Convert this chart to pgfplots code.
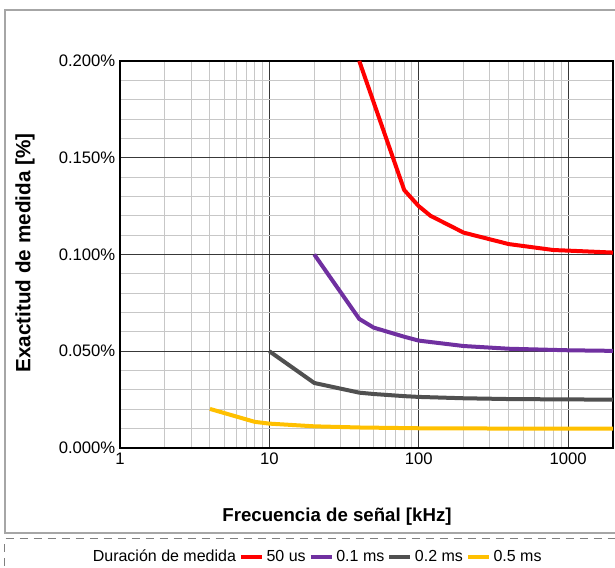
\documentclass[border=0pt]{standalone}
\usepackage{pgfplots}
\pgfplotsset{compat=1.18}
\usepackage{fontspec}
\setmainfont{Liberation Sans}
\definecolor{cred}{HTML}{FF0000}
\definecolor{cpurple}{HTML}{7030A0}
\definecolor{cgray}{HTML}{505050}
\definecolor{cyellow}{HTML}{FFC000}
\definecolor{cborder}{HTML}{A6A6A6}
\definecolor{cdash}{HTML}{808080}
\begin{document}
\begin{tikzpicture}[x=0.75pt,y=0.75pt]
\path[use as bounding box] (0,0) rectangle (615,568);
\draw[cborder, line width=1.5pt] (4.5,35) rectangle (640,558);
\draw[cdash, line width=0.75pt, dash pattern=on 6pt off 4.5pt] (4.5,-40) rectangle (640,29);
\begin{axis}[
  at={(90pt,90pt)}, anchor=south west,
  scale only axis, width=369.75pt, height=290.25pt,
  xmode=log, log basis x=10,
  xmin=1, xmax=2000, ymin=0, ymax=0.2,
  xtick={1,10,100,1000}, xticklabels={1,10,100,1000},
  minor xtick={2,3,4,5,6,7,8,9,20,30,40,50,60,70,80,90,200,300,400,500,600,700,800,900},
  ytick={0,0.05,0.1,0.15,0.2},
  yticklabels={0.000\%,0.050\%,0.100\%,0.150\%,0.200\%},
  minor ytick={0.01,0.02,0.03,0.04,0.06,0.07,0.08,0.09,0.11,0.12,0.13,0.14,0.16,0.17,0.18,0.19},
  grid=both,
  major grid style={draw=black!78, line width=0.75pt},
  minor grid style={draw=black!22, line width=0.75pt},
  axis line style={black, line width=0.9pt},
  tick style={draw=none}, major tick length=0pt, minor tick length=0pt,
  tick label style={font=\fontsize{12.5}{14}\selectfont},
  /pgf/number format/assume math mode=true,
  legend columns=-1,
  legend style={at={(0.400,-0.2817)}, anchor=center, draw=none, fill=none,
    font=\fontsize{12}{14}\selectfont,
    /tikz/every even column/.append style={column sep=0pt},
    inner sep=0pt},
  legend image code/.code={\draw[line width=3.2pt] (0pt,0pt) -- (15.75pt,0pt);},
]
\addlegendimage{empty legend}
\addlegendentry{Duración de medida\hspace{6pt}}
\addplot[cred, line width=3pt] coordinates {
(40,0.2) (80,0.1333) (100,0.1250) (120,0.1200) (200,0.1113) (400,0.1054) (800,0.1023) (1000,0.1020) (2000,0.1010)};
\addlegendentry{50 us}
\addplot[cpurple, line width=3pt] coordinates {
(20,0.1) (40,0.0667) (50,0.0622) (80,0.0575) (100,0.0555) (200,0.0527) (400,0.0513) (1000,0.0505) (2000,0.0502)};
\addlegendentry{0.1 ms}
\addplot[cgray, line width=3pt] coordinates {
(10,0.05) (20,0.0336) (40,0.0286) (50,0.0279) (80,0.0268) (100,0.0264) (200,0.0257) (400,0.0253) (1000,0.0251) (2000,0.0250)};
\addlegendentry{0.2 ms}
\addplot[cyellow, line width=3pt] coordinates {
(4,0.0202) (8,0.0135) (10,0.0126) (20,0.0112) (40,0.0106) (50,0.0105) (100,0.0102) (200,0.0101) (1000,0.0100) (2000,0.0100)};
\addlegendentry{0.5 ms}
\end{axis}
\node[font=\bfseries\fontsize{14}{16}\selectfont] at (337,51) {Frecuencia de señal [kHz]};
\node[font=\bfseries\fontsize{15.5}{17}\selectfont, rotate=90] at (25,315) {Exactitud de medida [\%]};
\end{tikzpicture}
\end{document}
